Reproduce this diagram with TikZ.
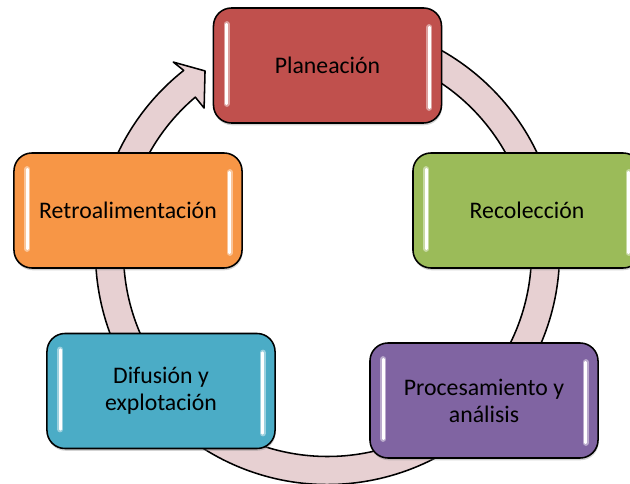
\documentclass[tikz,border=0pt]{standalone}
\usepackage{fontspec}
\setmainfont{Carlito}
\usepackage{xcolor}
\usepackage{tikz}
\usetikzlibrary{positioning,calc,shadows}
\definecolor{planred}{HTML}{C0504D}
\definecolor{recgreen}{HTML}{9BBB59}
\definecolor{procpurple}{HTML}{8064A2}
\definecolor{difblue}{HTML}{4BACC6}
\definecolor{retorange}{HTML}{F79646}
\definecolor{ringfill}{RGB}{231,208,210}
\tikzstyle{stage} = [rectangle, rounded corners=0.45cm, minimum width=5.7cm, minimum height=2.875cm, text centered, align=center, draw=black, line width=1.1pt, font=\fontsize{16.9}{19.2}\selectfont, drop shadow={opacity=0.35, shadow xshift=0.4pt, shadow yshift=-1.6pt}]
\tikzstyle{ring} = [draw=black, line width=1.1pt, fill=ringfill, line join=round]
\tikzstyle{glow} = [line cap=round, line width=4.4pt, opacity=0.7]
\tikzstyle{shine} = [line cap=round, line width=2pt, white]
% white highlight bars inside a box
\newcommand{\shinebars}[2]{
  \draw[glow, #2!35!white] ($(#1.north west)+(14,-17)$) -- ($(#1.south west)+(14,20)$);
  \draw[shine] ($(#1.north west)+(14,-17)$) -- ($(#1.south west)+(14,20)$);
  \draw[glow, #2!35!white] ($(#1.north east)+(-13,-20)$) -- ($(#1.south east)+(-13,16)$);
  \draw[shine] ($(#1.north east)+(-13,-20)$) -- ($(#1.south east)+(-13,16)$);
}

\begin{document}
\begin{tikzpicture}[x=0.025cm, y=0.025cm]
\useasboundingbox (0,0) rectangle (630,-484);

% Ciclo
\coordinate (c) at (327.5,-252.5);
\draw[ring] ($(c)+(100:232)$) arc[start angle=100, end angle=-231.7, radius=232]
  -- ($(c)+(129:245)$) -- ($(c)+(124:219)$) -- ($(c)+(130.5:190)$)
  -- ($(c)+(130.4:204)$) arc[start angle=-229.6, end angle=100, radius=204] -- cycle;

% Etapas
\node (plan) [stage, fill=planred] at (327.5,-65.5) {Planeación};
\node (recol) [stage, fill=recgreen] at (527,-210.5) {Recolección};
\node (proc) [stage, fill=procpurple] at (484,-400.5) {Procesamiento y\\análisis};
\node (difus) [stage, fill=difblue] at (161,-391) {Difusión y\\explotación};
\node (retro) [stage, fill=retorange] at (128,-210.5) {Retroalimentación};

% Brillos
\shinebars{plan}{planred}
\shinebars{recol}{recgreen}
\shinebars{proc}{procpurple}
\shinebars{difus}{difblue}
\shinebars{retro}{retorange}

\end{tikzpicture}
\end{document}
